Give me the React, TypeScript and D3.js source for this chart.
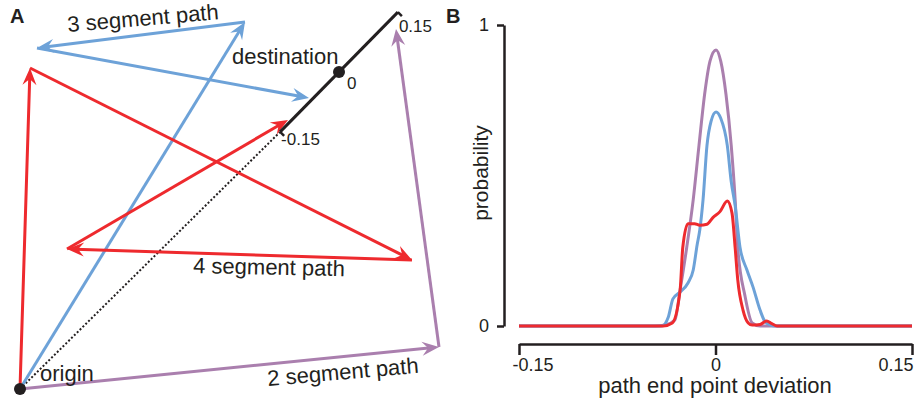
import React, { useEffect, useRef } from 'react';
import * as d3 from 'd3';

type Pt = [number, number];

// panel A: path vertices in diagram units (origin at 0,0, y up)
const bluePath: Pt[] = [[0, 0], [225, 367], [17, 341], [289, 291]];
const redPath: Pt[] = [[0, 0], [10, 321], [392, 129], [47, 140], [268, 269]];
const purplePath: Pt[] = [[0, 0], [419, 42], [376, 360]];
const destCenter: Pt = [319, 317];
const destDir: Pt = [0.701, 0.713];
const destTicks = [-0.15, 0, 0.15];
const destTickLabels = ['-0.15', '0', '0.15'];

// panel B: end point deviation vs probability
const purpleCurve: Pt[] = [
  [-0.15, 0], [-0.046, 0], [-0.0386, 0.003], [-0.031, 0.02], [-0.027, 0.12], [-0.022, 0.26],
  [-0.017, 0.42], [-0.0126, 0.6], [-0.008, 0.78], [-0.0042, 0.88], [0.0004, 0.917],
  [0.004, 0.88], [0.008, 0.77], [0.012, 0.6], [0.015, 0.42], [0.017, 0.26], [0.0225, 0.1],
  [0.028, 0.01], [0.034, 0], [0.15, 0],
];
const blueCurve: Pt[] = [
  [-0.15, 0], [-0.041, 0], [-0.036, 0.03], [-0.0325, 0.09], [-0.027, 0.113], [-0.021, 0.143],
  [-0.017, 0.186], [-0.014, 0.27], [-0.012, 0.319], [-0.0095, 0.42], [-0.0065, 0.6],
  [-0.0034, 0.68], [0.0004, 0.711], [0.004, 0.69], [0.009, 0.6], [0.012, 0.48], [0.015, 0.4],
  [0.0187, 0.262], [0.024, 0.186], [0.0286, 0.13], [0.034, 0.053], [0.038, 0.013],
  [0.042, 0.003], [0.046, 0], [0.15, 0],
];
const redCurve: Pt[] = [
  [-0.15, 0], [-0.04, 0], [-0.033, 0.01], [-0.027, 0.12], [-0.025, 0.26], [-0.021, 0.34],
  [-0.016, 0.34], [-0.012, 0.335], [-0.0065, 0.338], [-0.002, 0.36], [0.0034, 0.38],
  [0.009, 0.415], [0.0126, 0.375], [0.015, 0.26], [0.017, 0.153], [0.021, 0.053],
  [0.025, 0.01], [0.028, 0.003], [0.034, 0.005], [0.039, 0.017], [0.043, 0.008],
  [0.047, 0], [0.15, 0],
];
const xTicks = [-0.15, 0, 0.15];
const yTicks = [0, 1];

const BLUE = '#6da2d8';
const RED = '#ee2a2e';
const PURPLE = '#aa7fae';
const INK = '#231f20';
const FONT = '"Liberation Sans", Arial, sans-serif';

function Chart({ width, height }: { width: number; height: number }) {
  const root = useRef<HTMLDivElement>(null);

  useEffect(() => {
    const svg = d3
      .create('svg')
      .attr('width', width)
      .attr('height', height)
      .attr('viewBox', `0 0 ${width} ${height}`)
      .style('display', 'block')
      .style('font-family', FONT);

    svg.append('rect').attr('width', width).attr('height', height).attr('fill', '#fff');

    // ---------- panel A ----------
    const xA = d3.scaleLinear().domain([0, 420]).range([20, 440]);
    const yA = d3.scaleLinear().domain([0, 377]).range([389, 12]);
    const dev = d3.scaleLinear().domain([-0.15, 0.15]).range([-84, 84]);
    const along = (d: number): Pt => [destCenter[0] + destDir[0] * dev(d), destCenter[1] + destDir[1] * dev(d)];

    const defs = svg.append('defs');
    [['blue', BLUE], ['red', RED], ['purple', PURPLE]].forEach(([id, c]) => {
      defs
        .append('marker')
        .attr('id', `head-${id}`)
        .attr('viewBox', '-18 -9 20 18')
        .attr('refX', 0)
        .attr('refY', 0)
        .attr('markerWidth', 20)
        .attr('markerHeight', 18)
        .attr('markerUnits', 'userSpaceOnUse')
        .attr('orient', 'auto')
        .append('path')
        .attr('d', 'M0,0 L-17,-7 L-11,0 L-17,7 Z')
        .attr('fill', c);
    });

    const gA = svg.append('g');

    // dotted straight route
    const lo = along(-0.15);
    gA.append('line')
      .attr('x1', xA(0)).attr('y1', yA(0))
      .attr('x2', xA(lo[0])).attr('y2', yA(lo[1]))
      .attr('stroke', INK)
      .attr('stroke-width', 2)
      .attr('stroke-dasharray', '2,2');

    const drawPath = (pts: Pt[], color: string, id: string) => {
      d3.pairs(pts).forEach(([a, b]) => {
        const x1 = xA(a[0]), y1 = yA(a[1]), x2 = xA(b[0]), y2 = yA(b[1]);
        const len = Math.hypot(x2 - x1, y2 - y1);
        const k = (len - 8) / len;
        gA.append('line')
          .attr('x1', x1).attr('y1', y1)
          .attr('x2', x1 + (x2 - x1) * k).attr('y2', y1 + (y2 - y1) * k)
          .attr('stroke', color)
          .attr('stroke-width', 3);
      });
      d3.pairs(pts).forEach(([a, b]) => {
        gA.append('line')
          .attr('x1', xA(a[0])).attr('y1', yA(a[1]))
          .attr('x2', xA(b[0])).attr('y2', yA(b[1]))
          .attr('stroke', 'transparent')
          .attr('stroke-width', 0.01)
          .attr('marker-end', `url(#head-${id})`);
      });
    };
    drawPath(bluePath, BLUE, 'blue');
    drawPath(redPath, RED, 'red');
    drawPath(purplePath, PURPLE, 'purple');

    // destination line
    const hi = along(0.15);
    gA.append('line')
      .attr('x1', xA(lo[0])).attr('y1', yA(lo[1]))
      .attr('x2', xA(hi[0])).attr('y2', yA(hi[1]))
      .attr('stroke', INK)
      .attr('stroke-width', 3);
    [lo, hi].forEach(p => {
      const px = xA(p[0]), py = yA(p[1]);
      gA.append('line')
        .attr('x1', px).attr('y1', py)
        .attr('x2', px + 4).attr('y2', py + 4)
        .attr('stroke', INK)
        .attr('stroke-width', 2.5);
    });
    const mid = along(0);
    gA.append('circle').attr('cx', xA(mid[0])).attr('cy', yA(mid[1])).attr('r', 6).attr('fill', INK);
    gA.append('circle').attr('cx', xA(0)).attr('cy', yA(0)).attr('r', 6).attr('fill', INK);

    const tickOffsets: Pt[] = [[1, 13], [8, 17], [1, 20]];
    destTicks.forEach((d, i) => {
      const p = along(d);
      gA.append('text')
        .attr('x', xA(p[0]) + tickOffsets[i][0])
        .attr('y', yA(p[1]) + tickOffsets[i][1])
        .attr('font-size', 17)
        .attr('fill', INK)
        .text(destTickLabels[i]);
    });

    const label = (txt: string, x: number, y: number, rot: number, size = 22) =>
      gA.append('text')
        .attr('transform', `translate(${x},${y}) rotate(${rot})`)
        .attr('font-size', size)
        .attr('fill', INK)
        .text(txt);
    label('3 segment path', 68, 32, -4.8);
    label('destination', 232, 64, 0);
    label('4 segment path', 193, 273, 1.2);
    label('2 segment path', 268, 386, -5);
    label('origin', 40, 381, 0);

    svg.append('text').attr('x', 10).attr('y', 23).attr('font-size', 20).attr('font-weight', 'bold').attr('fill', INK).text('A');
    svg.append('text').attr('x', 446).attr('y', 23).attr('font-size', 20).attr('font-weight', 'bold').attr('fill', INK).text('B');

    // ---------- panel B ----------
    const xB = d3.scaleLinear().domain([-0.15, 0.15]).range([519, 912]);
    const yB = d3.scaleLinear().domain([0, 1]).range([326, 25]);

    const yAxis = svg.append('g')
      .attr('transform', 'translate(504,0)')
      .call(d3.axisLeft(yB).tickValues(yTicks).tickFormat(d3.format('d')).tickSize(7).tickSizeOuter(0).tickPadding(8));
    const xAxis = svg.append('g')
      .attr('transform', 'translate(0,344)')
      .call(d3.axisBottom(xB).tickValues(xTicks).tickFormat(d => String(d)).tickSize(11).tickSizeOuter(0).tickPadding(3));
    [yAxis, xAxis].forEach(ax => {
      ax.selectAll('path, line').attr('stroke', INK).attr('stroke-width', 2.5);
      ax.selectAll('text').attr('font-size', 18).attr('font-family', FONT).attr('fill', INK);
    });
    // end labels sit inside the axis span
    xAxis.selectAll<SVGTextElement, number>('text')
      .attr('text-anchor', d => (d === xTicks[0] ? 'start' : d === xTicks[xTicks.length - 1] ? 'end' : 'middle'))
      .attr('dx', d => (d === xTicks[0] ? -7 : d === xTicks[xTicks.length - 1] ? 1 : 0));

    const line = d3.line<Pt>().x(d => xB(d[0])).y(d => yB(d[1])).curve(d3.curveMonotoneX);
    ([[purpleCurve, PURPLE], [blueCurve, BLUE], [redCurve, RED]] as [Pt[], string][]).forEach(([data, c]) => {
      svg.append('path')
        .datum(data)
        .attr('fill', 'none')
        .attr('stroke', c)
        .attr('stroke-width', 3)
        .attr('stroke-linejoin', 'round')
        .attr('d', line);
    });

    svg.append('text')
      .attr('transform', 'translate(488,173) rotate(-90)')
      .attr('text-anchor', 'middle')
      .attr('font-size', 21)
      .attr('fill', INK)
      .text('probability');
    svg.append('text')
      .attr('x', 715)
      .attr('y', 393)
      .attr('text-anchor', 'middle')
      .attr('font-size', 22)
      .attr('fill', INK)
      .text('path end point deviation');

    const rootNode = root.current;
    rootNode?.appendChild(svg.node() as Node);
    return () => {
      if (rootNode && rootNode.firstChild) rootNode.removeChild(rootNode.firstChild);
    };
  }, [width, height]);

  return <div ref={root} />;
}

export default function App() {
  return (
    <div style={{ position: 'absolute', left: 0, top: 0 }}>
      <Chart width={916} height={403} />
    </div>
  );
}
